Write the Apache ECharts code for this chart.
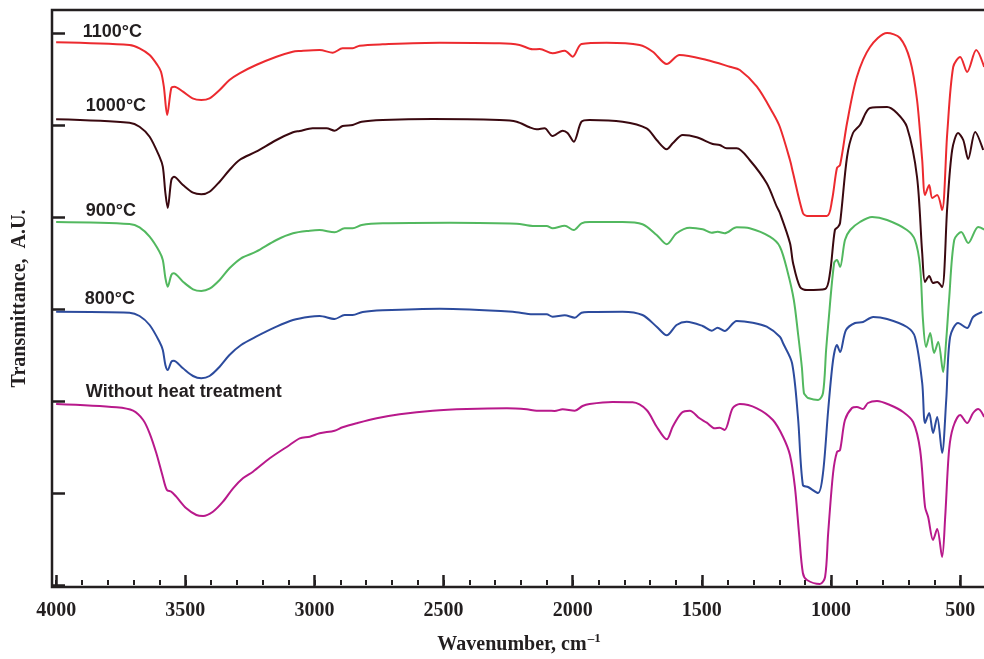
<!DOCTYPE html>
<html>
<head>
<meta charset="utf-8">
<script src="https://cdn.jsdelivr.net/npm/echarts@6/dist/echarts.min.js"></script>
<style>html,body{margin:0;padding:0;background:#fff}#c{width:984px;height:659px}</style>
</head>
<body>
<div id="c"></div>
<script>
// Wavenumber (cm^-1) and transmittance (arbitrary offset units) for each spectrum
const wn1100 = [4000,3716,3677,3638,3608,3594,3583,3570,3554,3542,3509,3472,3438,3406,3367,3329,3290,3226,3147,3084,3057,2980,2929,2891,2852,2825,2736,2515,2283,2206,2155,2128,2078,2031,2000,1966,1869,1741,1690,1636,1586,1481,1392,1353,1287,1225,1198,1159,1147,1109,1093,1016,996,977,965,938,900,849,783,733,694,667,647,636,620,608,589,570,550,527,500,473,438,407];
const t1100 = [542.7,540,536.7,530,520,513.3,498.3,470,497,498.3,493.3,486.7,485,486.7,495,505,511.7,520,528.3,533.3,534,535,532.3,536.7,536.7,539.3,540.7,542.3,541.7,540,535.7,536,531.7,534.3,528.3,541,542.3,540,533.3,521,530,525,518.3,515,498.3,472,458,425,412,372,369,369,385,417,420,462,508,538,552,547,525,485,425,390,400,387,390,375,452,518,528,513,535,518];

const wn1000 = [4000,3716,3677,3638,3600,3587,3577,3568,3554,3544,3509,3470,3438,3406,3367,3329,3290,3226,3147,3083,3057,3007,2953,2922,2891,2852,2817,2736,2542,2283,2217,2167,2140,2109,2078,2039,2020,1996,1966,1935,1807,1714,1675,1636,1613,1574,1520,1458,1431,1404,1365,1315,1249,1210,1198,1159,1147,1120,1093,1023,1004,985,973,965,938,915,888,849,783,745,706,667,647,636,620,605,589,570,550,531,508,488,469,442,411];
const t1000 = [465.7,462.3,458.3,448.3,428.3,418.3,392,377,405,408.3,400,392.3,390.7,393.3,403.3,415,425,433.3,445,452.7,454,456.7,456.7,454.3,459,460,463.3,465,466,465,463.3,457.7,455.7,456.7,449,454.3,452,443.3,463.3,465,463.3,456.7,445,435.7,441.7,450,447.7,441,440,436.7,436.7,425,401.7,378.3,372,342,322,298,295,296,312,355,358,362,428,452,460,477,478,472,458,408,332,303,309,302,303,298,378,435,452,445,426,453,435];

const wn900 = [4000,3716,3677,3638,3600,3587,3577,3568,3554,3545,3509,3470,3438,3406,3367,3329,3284,3226,3147,3083,3018,2980,2922,2883,2852,2817,2736,2476,2217,2155,2101,2078,2031,1996,1966,1935,1807,1730,1675,1636,1598,1547,1497,1462,1439,1412,1365,1315,1237,1198,1167,1144,1128,1113,1105,1097,1089,1050,1031,1019,1011,988,977,965,946,926,888,841,783,706,675,655,644,632,616,601,585,566,554,543,523,496,469,430,403];
const t900 = [363,361,357.7,348.3,333.3,325,307,298.3,310,311.7,303.3,295.7,294,296.3,305,316.7,326.7,333.3,345,351.7,354.3,355,352.7,356.7,356.7,360,361.7,362.3,361.3,359,359,356.7,359.3,355,361.7,363,363,360.7,350,340.7,351.7,357.3,355.7,352.3,353.3,351.7,357.7,356.7,348.3,338.3,312,285,252,218,192,189,187,185,192,235,260,322,325,318,345,355,363,368,365,355,345,318,265,238,252,232,243,213,245,285,345,353,342,358,355];

const wn800 = [4000,3716,3677,3638,3600,3587,3577,3568,3554,3545,3509,3470,3438,3406,3367,3329,3284,3226,3147,3083,3018,2980,2922,2883,2852,2813,2736,2515,2232,2155,2101,2078,2031,1992,1966,1935,1807,1730,1675,1636,1598,1559,1497,1462,1439,1412,1365,1303,1249,1198,1186,1151,1128,1109,1089,1050,1031,1011,992,977,965,942,907,876,837,783,706,675,647,636,620,605,589,570,554,539,508,473,450,415];
const t800 = [273.3,272.3,269,260,243.3,235,220,215,223.3,224.3,216.7,209,206.7,209,218.3,230,240,248.3,258.3,265,268.3,269,266,270,270,273,274.7,276.3,273.3,270.7,270.7,268.3,269.7,267.3,272.3,273,273.3,270,258.3,249.7,260,263.3,259,254.3,257.3,254,264,262.3,258.3,248.3,242,222,168,100,98,92,112,175,225,240,233,255,262,263,268,266,258,248,202,162,172,152,168,132,185,248,262,257,268,273];

const wnRaw = [4000,3766,3702,3663,3638,3612,3587,3571,3554,3535,3496,3457,3431,3393,3354,3315,3277,3238,3173,3096,3057,3018,2980,2922,2891,2837,2759,2670,2542,2410,2255,2178,2140,2097,2070,2039,1992,1962,1935,1846,1768,1714,1675,1636,1613,1578,1547,1509,1481,1450,1431,1412,1381,1353,1287,1225,1186,1159,1140,1124,1109,1093,1043,1023,1011,992,977,965,946,919,900,876,857,822,772,721,682,655,636,624,605,589,570,558,543,527,500,473,450,430,407];
const tRaw = [181,177.7,174.3,165,151.7,131.7,108.3,95,93.3,88.3,76.7,70,69,73.3,83.3,96.7,106.7,113.3,126.7,140,146.7,148.3,151.7,154.3,157.7,161.7,166.7,170.7,174.3,176,176.7,175.7,174.3,174.3,174,175.7,174.3,179,181,183,182.7,175,158.3,145.7,158.3,172.3,174.3,166.7,162.3,156.7,157.3,155,176.7,181,176.7,165,148.3,130,98.3,52,12,5,1,8,52,112,133,135,165,177,178,176,182,184,180,173,163,135,78,68,45,56,28,68,135,158,170,162,172,176,168];

const xMajorTicks = [500,1000,1500,2000,2500,3000,3500,4000];
const yTicks = [0,92,184,276,368,460,552];

const curveLabels = [
  {text:'1100°C', wn:3897, t:553},
  {text:'1000°C', wn:3885, t:479},
  {text:'900°C', wn:3885, t:374},
  {text:'800°C', wn:3889, t:286},
  {text:'Without heat treatment', wn:3885, t:193}
];

const zip = (a,b) => a.map((v,i)=>[v,b[i]]);
const ink = '#231f20';
const serif = '"Liberation Serif","Times New Roman",serif';

function mkSeries(name, x, y, color){
  return {
    name, type:'line', data: zip(x,y), showSymbol:false, smooth:0.3, xAxisIndex:0,
    lineStyle:{color, width:2}, itemStyle:{color}, animation:false, z:3
  };
}

const chart = echarts.init(document.getElementById('c'), null, {renderer:'canvas'});
const series = [
  mkSeries('1100', wn1100, t1100, '#ec2a2f'),
  mkSeries('1000', wn1000, t1000, '#3a0910'),
  mkSeries('900', wn900, t900, '#52b85f'),
  mkSeries('800', wn800, t800, '#2c4b9d'),
  mkSeries('raw', wnRaw, tRaw, '#b8198b')
];
series.push({
  type:'scatter', symbolSize:0, silent:true, animation:false, z:4, xAxisIndex:0,
  itemStyle:{opacity:1},
  data: curveLabels.map(l=>({value:[l.wn,l.t], name:l.text})),
  label:{show:true, position:'right', distance:0, formatter:p=>p.name, opacity:1,
    textBorderWidth:0, fontFamily:'"Liberation Sans",Arial,sans-serif', fontWeight:'bold', fontSize:18, color:ink}
});

chart.setOption({
  animation:false,
  grid:{left:52, top:10, width:934, height:577, show:true, borderColor:ink, borderWidth:2.5,
    backgroundColor:'transparent', outerBoundsMode:'none', containLabel:false},
  xAxis:[{
    type:'value', position:'bottom', min:400, max:4016, inverse:true, interval:100,
    axisLine:{show:false}, splitLine:{show:false}, axisLabel:{show:false},
    axisTick:{show:true, inside:true, length:5, lineStyle:{color:ink, width:2}}
  },{
    type:'value', position:'bottom', min:400, max:4016, inverse:true,
    axisLine:{show:false}, splitLine:{show:false},
    axisTick:{show:true, inside:true, length:12, customValues:xMajorTicks, lineStyle:{color:ink, width:2.5}},
    axisLabel:{show:true, customValues:xMajorTicks, margin:14, formatter:v=>String(v),
      fontFamily:serif, fontWeight:'bold', fontSize:20, color:ink},
    name:'Wavenumber, cm{sup|–1}', nameLocation:'middle', nameGap:45,
    nameTextStyle:{fontFamily:serif, fontWeight:'bold', fontSize:20, color:ink,
      rich:{sup:{fontFamily:serif, fontWeight:'bold', fontSize:13, color:ink, verticalAlign:'top', padding:[0,0,12,1]}}}
  }],
  yAxis:{
    type:'value', min:-2, max:575,
    axisLine:{show:false}, splitLine:{show:false}, axisLabel:{show:false},
    axisTick:{show:true, inside:true, length:13, customValues:yTicks, lineStyle:{color:ink, width:2.5}},
    name:'Transmittance,  A.U.', nameLocation:'middle', nameGap:22,
    nameTextStyle:{fontFamily:serif, fontWeight:'bold', fontSize:20, color:ink}
  },
  series
});
</script>
</body>
</html>
